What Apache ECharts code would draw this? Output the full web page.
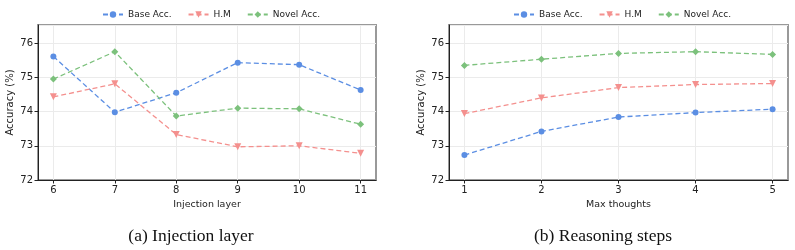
<!DOCTYPE html>
<html><head><meta charset="utf-8">
<script src="https://cdn.jsdelivr.net/npm/echarts@6/dist/echarts.min.js"></script>
<style>html,body{margin:0;padding:0;background:#fff}#c{width:795px;height:250px}</style>
</head><body><div id="c"></div>
<script>
const seriesNames = ['Base Acc.', 'H.M', 'Novel Acc.'];
const layers = [6, 7, 8, 9, 10, 11];
const layerBase = [75.61, 73.98, 74.55, 75.43, 75.37, 74.63];
const layerHM = [74.43, 74.81, 73.33, 72.97, 73.00, 72.78];
const layerNovel = [74.95, 75.75, 73.87, 74.10, 74.08, 73.63];
const thoughts = [1, 2, 3, 4, 5];
const thoughtBase = [72.73, 73.42, 73.84, 73.97, 74.07];
const thoughtHM = [73.94, 74.40, 74.70, 74.79, 74.82];
const thoughtNovel = [75.35, 75.53, 75.70, 75.75, 75.67];
const yTicks = [72, 73, 74, 75, 76];
const captions = ['(a) Injection layer', '(b) Reasoning steps'];
const xNames = ['Injection layer', 'Max thoughts'];

const colors = ['#5b8ee3', '#f4908e', '#7cc17c'];
const symbols = ['circle', 'triangle', 'diamond'];
const symSizes = [6, 7, 7];
const rot = [0, 180, 0];
const font = 'DejaVu Sans';

function pairs(xs, ys) { return xs.map((x, i) => [x, ys[i]]); }

const sets = [
  [layerBase, layerHM, layerNovel],
  [thoughtBase, thoughtHM, thoughtNovel]
];
const xsets = [layers, thoughts];

const series = [];
sets.forEach((s, gi) => {
  s.forEach((vals, si) => {
    series.push({
      name: seriesNames[si], type: 'line', xAxisIndex: gi, yAxisIndex: gi,
      data: pairs(xsets[gi], vals),
      symbol: symbols[si], symbolSize: symSizes[si], symbolRotate: rot[si],
      lineStyle: { color: colors[si], width: 1.3, type: [5, 3] },
      itemStyle: { color: colors[si] },
      emphasis: { disabled: true }, animation: false, z: 3
    });
  });
});

function xAxis(gi, min, max, ticks) {
  return {
    type: 'value', gridIndex: gi, min: min, max: max,
    name: xNames[gi], nameLocation: 'middle', nameGap: 19,
    nameTextStyle: { fontFamily: font, fontSize: 9.5, color: '#222' },
    axisLine: { show: true, onZero: false, lineStyle: { color: '#222', width: 1 } },
    axisTick: { show: true, length: 3.5, customValues: ticks, lineStyle: { color: '#222' } },
    axisLabel: { customValues: ticks, fontFamily: font, fontSize: 10, color: '#222', margin: 5 },
    splitLine: { show: true, lineStyle: { color: '#ebebeb', width: 1 } }
  };
}
function yAxis(gi) {
  return {
    type: 'value', gridIndex: gi, min: 72, max: 76.53, interval: 1,
    name: 'Accuracy (%)', nameLocation: 'middle', nameGap: 23,
    nameTextStyle: { fontFamily: font, fontSize: 10, color: '#222' },
    axisLine: { show: true, lineStyle: { color: '#222', width: 1 } },
    axisTick: { show: true, length: 3.5, lineStyle: { color: '#222' } },
    axisLabel: { showMaxLabel: false, fontFamily: font, fontSize: 10, color: '#222', margin: 5 },
    splitLine: { show: true, lineStyle: { color: '#ebebeb', width: 1 } }
  };
}

const legendBase = {
  data: seriesNames, top: 5, itemWidth: 20, itemHeight: 8, itemGap: 16,
  textStyle: { fontFamily: font, fontSize: 9, color: '#222' }
};

const chart = echarts.init(document.getElementById('c'), null, { renderer: 'canvas' });
chart.setOption({
  animation: false,
  backgroundColor: '#fff',
  legend: [
    Object.assign({}, legendBase, { left: 97 }),
    Object.assign({}, legendBase, { left: 508 })
  ],
  grid: [
    { left: 38, right: 419, top: 25, bottom: 70, show: true, borderColor: '#999', borderWidth: 2, backgroundColor: 'transparent' },
    { left: 449, right: 7, top: 25, bottom: 70, show: true, borderColor: '#999', borderWidth: 2, backgroundColor: 'transparent' }
  ],
  xAxis: [xAxis(0, 5.75, 11.25, layers), xAxis(1, 0.8, 5.2, thoughts)],
  yAxis: [yAxis(0), yAxis(1)],
  series: series,
  graphic: [
    { type: 'text', style: { text: captions[0], font: '17.5px "Liberation Serif"', fill: '#111', x: 191, y: 236, textAlign: 'center', textVerticalAlign: 'middle' } },
    { type: 'text', style: { text: captions[1], font: '17.5px "Liberation Serif"', fill: '#111', x: 603, y: 236, textAlign: 'center', textVerticalAlign: 'middle' } }
  ]
});
</script></body></html>
